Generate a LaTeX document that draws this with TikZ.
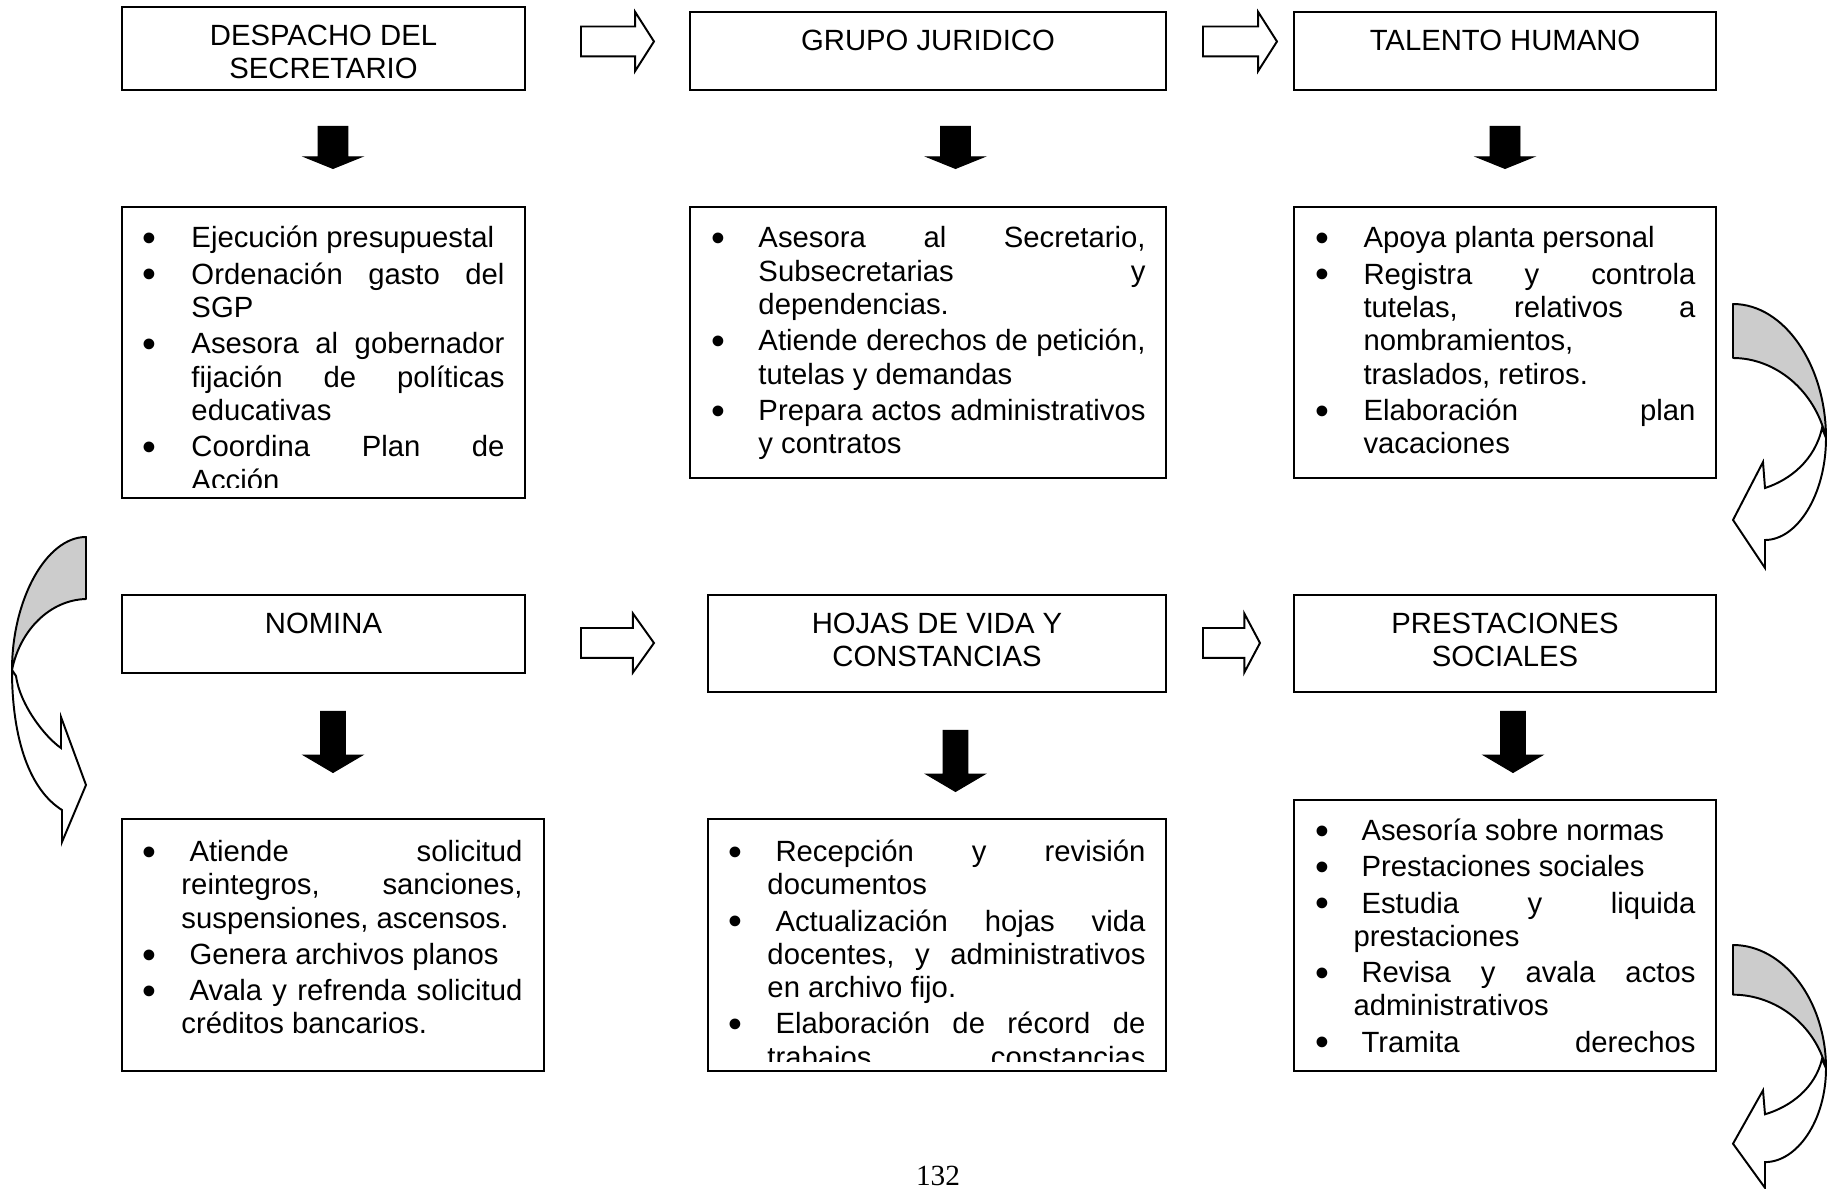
\documentclass[tikz,border=0pt]{standalone}
\usepackage{fontspec}
\setmainfont{Liberation Sans}
\newfontfamily\pagenumfont{Liberation Serif}
\usetikzlibrary{shapes.arrows}

\definecolor{bandgray}{RGB}{204,204,204}

% helpers for the bulleted, justified text blocks
\newlength\linew
\newlength\bulo
\newcommand\jline[1]{\hbox to \linew{#1}}
\newcommand\bulletmark{\llap{\makebox[0pt]{\raisebox{-1.5pt}{\scalebox{1.35}{\textbullet}}}\hskip\bulo}}
\newcommand\ctrline[1]{\hbox to 0pt{\hss#1\hss}}
\newcommand\itemgap{\vskip 1.23pt}
\newcommand\leadsp{\hskip 3.3pt}
\newcommand\setlines{\baselineskip=13.65pt\lineskiplimit=-20pt\lineskip=0pt\relax}
\newcommand\boxat[5]{\node[boxframe, minimum width={(#4-#2)*0.41pt}, minimum height={(#5-#3)*0.41pt}] (#1) at ({(#2+#4)/2},{(#3+#5)/2}) {};}

\begin{document}
\begin{tikzpicture}[x=0.41pt, y=-0.41pt,
  boxframe/.style={rectangle, draw, line width=0.9pt, inner sep=0pt},
  bodytext/.style={inner sep=0pt, font=\fontsize{12}{13.65}\selectfont},
  blockarrow/.style={single arrow, draw, line width=0.8pt, fill=white, inner sep=0pt, anchor=tail, single arrow head extend=5.945pt},
  blackarrow/.style={single arrow, draw, fill=black, line width=0.4pt, inner sep=0pt, anchor=tail, rotate=-90},
  ribbonback/.style={draw, line width=0.8pt, fill=bandgray, line join=round},
  ribbonfront/.style={draw, line width=0.8pt, fill=white, line join=miter},
  rcurve/.pic={
    \path[ribbonback] (0,0) .. controls (51,0) and (93,61) .. (93,134)
      .. controls (82,86) and (42,54) .. (0,54) -- cycle;
    \path[ribbonfront] (93,134) .. controls (93,191) and (64,236) .. (32,236)
      -- (32,264) -- (0,216) -- (30,158) -- (32,184)
      .. controls (57,176) and (82,156) .. (89,124) -- cycle;
  }
]
\useasboundingbox (0,0) rectangle (1834,1189);
\clip (0,0) rectangle (1834,1189);
\fill[white] (0,0) rectangle (1834,1189);

% ---------- first row: headings ----------
\boxat{despacho}{122}{7}{525}{90}
\boxat{grupo}{690}{12}{1166}{90}
\boxat{talento}{1294}{12}{1716}{90}
\node[bodytext, anchor=base] (despacho-t) at (323.5,45.5) {\vtop{\setlines\ctrline{DESPACHO DEL}\ctrline{SECRETARIO}}};
\node[bodytext, anchor=base] (grupo-t) at (928,50.5) {GRUPO JURIDICO};
\node[bodytext, anchor=base] (talento-t) at (1505,50.5) {TALENTO HUMANO};

\node[blockarrow, minimum height=29.93pt, single arrow tip angle=115] (ar1) at (580,41.5) {\rule{0pt}{11.48pt}};
\node[blockarrow, minimum height=30.34pt, single arrow tip angle=115] (ar2) at (1202,41.5) {\rule{0pt}{11.48pt}};

\foreach \nm/\cx in {dn1/333, dn2/955.5, dn3/1505}
  \node[blackarrow, minimum height=17.22pt, single arrow head extend=5.74pt, single arrow tip angle=136] (\nm) at (\cx,126) {\rule{0pt}{11.89pt}};

% ---------- first row: task lists ----------
\boxat{despacho-b}{122}{207}{525}{498}
\boxat{grupo-b}{690}{207}{1166}{478}
\boxat{talento-b}{1294}{207}{1716}{478}

\begin{scope}
\clip (122,207) rectangle (525,488);
\node[bodytext, anchor=base west] (despacho-l) at (191,248) {\vtop{\linew=128.33pt\bulo=17.22pt\setlines
  \jline{\bulletmark Ejecución presupuestal\hfill}\itemgap
  \jline{\bulletmark Ordenación\hfill gasto\hfill del}
  \jline{SGP\hfill}\itemgap
  \jline{\bulletmark Asesora\hfill al\hfill gobernador}
  \jline{fijación\hfill de\hfill políticas}
  \jline{educativas\hfill}\itemgap
  \jline{\bulletmark Coordina\hfill Plan\hfill de}
  \jline{Acción\hfill}}};
\end{scope}

\node[bodytext, anchor=base west] (grupo-l) at (758,248) {\vtop{\linew=158.67pt\bulo=16.4pt\setlines
  \jline{\bulletmark Asesora\hfill al\hfill Secretario,}
  \jline{Subsecretarias\hfill y}
  \jline{dependencias.\hfill}\itemgap
  \jline{\bulletmark Atiende\hfill derechos\hfill de\hfill petición,}
  \jline{tutelas y demandas\hfill}\itemgap
  \jline{\bulletmark Prepara\hfill actos\hfill administrativos}
  \jline{y contratos\hfill}}};

\node[bodytext, anchor=base west] (talento-l) at (1363,248) {\vtop{\linew=136.12pt\bulo=16.81pt\setlines
  \jline{\bulletmark Apoya planta personal\hfill}\itemgap
  \jline{\bulletmark Registra\hfill y\hfill controla}
  \jline{tutelas,\hfill relativos\hfill a}
  \jline{nombramientos,\hfill}
  \jline{traslados, retiros.\hfill}\itemgap
  \jline{\bulletmark Elaboración\hfill plan}
  \jline{vacaciones\hfill}}};

% ---------- curved arrows between rows ----------
\pic at (1733,304) {rcurve};
\path[ribbonback] (86,537) .. controls (46,537) and (12,600) .. (12,670)
  .. controls (20,630) and (50,600) .. (86,599) -- cycle;
\path[ribbonfront] (12,670) .. controls (12,740) and (30,790) .. (62,810)
  -- (62,842) -- (86,785) -- (61,717) -- (61,748)
  .. controls (45,737) and (20,705) .. (16,676) -- cycle;
\pic[yscale=0.92] at (1733,945) {rcurve};

% ---------- second row: headings ----------
\boxat{nomina}{122}{595}{525}{673}
\boxat{hojas}{708}{595}{1166}{692}
\boxat{prest}{1294}{595}{1716}{692}
\node[bodytext, anchor=base] (nomina-t) at (323.5,633.5) {NOMINA};
\node[bodytext, anchor=base] (hojas-t) at (937,633.5) {\vtop{\setlines\ctrline{HOJAS DE VIDA Y}\ctrline{CONSTANCIAS}}};
\node[bodytext, anchor=base] (prest-t) at (1505,633.5) {\vtop{\setlines\ctrline{PRESTACIONES}\ctrline{SOCIALES}}};

\node[blockarrow, minimum height=29.93pt, single arrow tip angle=109] (ar3) at (580,643) {\rule{0pt}{11.48pt}};
\node[blockarrow, minimum height=23.37pt, single arrow tip angle=124] (ar4) at (1202,643) {\rule{0pt}{11.48pt}};

\foreach \nm/\cx/\cy in {dn4/333/711, dn5/955.5/730, dn6/1513/711}
  \node[blackarrow, minimum height=25.01pt, single arrow head extend=6.97pt, single arrow tip angle=119] (\nm) at (\cx,\cy) {\rule{0pt}{9.84pt}};

% ---------- second row: task lists ----------
\boxat{nomina-b}{122}{819}{544}{1071}
\boxat{hojas-b}{708}{819}{1166}{1071}
\boxat{prest-b}{1294}{800}{1716}{1071}

\node[bodytext, anchor=base west] (nomina-l) at (181,861.5) {\vtop{\linew=139.81pt\bulo=13.12pt\setlines
  \jline{\bulletmark\leadsp Atiende\hfill solicitud}
  \jline{reintegros,\hfill sanciones,}
  \jline{suspensiones, ascensos.\hfill}\itemgap
  \jline{\bulletmark\leadsp Genera archivos planos\hfill}\itemgap
  \jline{\bulletmark\leadsp Avala\hfill y\hfill refrenda\hfill solicitud}
  \jline{créditos bancarios.\hfill}}};

\begin{scope}
\clip (708,819) rectangle (1166,1061);
\node[bodytext, anchor=base west] (hojas-l) at (767,861.5) {\vtop{\linew=154.98pt\bulo=13.12pt\setlines
  \jline{\bulletmark\leadsp Recepción\hfill y\hfill revisión}
  \jline{documentos\hfill}\itemgap
  \jline{\bulletmark\leadsp Actualización\hfill hojas\hfill vida}
  \jline{docentes,\hfill y\hfill administrativos}
  \jline{en archivo fijo.\hfill}\itemgap
  \jline{\bulletmark\leadsp Elaboración\hfill de\hfill récord\hfill de}
  \jline{trabajos\hfill constancias}}};
\end{scope}

\node[bodytext, anchor=base west] (prest-l) at (1353,840.5) {\vtop{\linew=140.22pt\bulo=12.71pt\setlines
  \jline{\bulletmark\leadsp Asesoría sobre normas\hfill}\itemgap
  \jline{\bulletmark\leadsp Prestaciones sociales\hfill}\itemgap
  \jline{\bulletmark\leadsp Estudia\hfill y\hfill liquida}
  \jline{prestaciones\hfill}\itemgap
  \jline{\bulletmark\leadsp Revisa\hfill y\hfill avala\hfill actos}
  \jline{administrativos\hfill}\itemgap
  \jline{\bulletmark\leadsp Tramita\hfill derechos}}};

% ---------- page number ----------
\node[inner sep=0pt, font=\pagenumfont\fontsize{12}{14}\selectfont, anchor=base] (pagenum) at (938,1185) {132};
\end{tikzpicture}
\end{document}
